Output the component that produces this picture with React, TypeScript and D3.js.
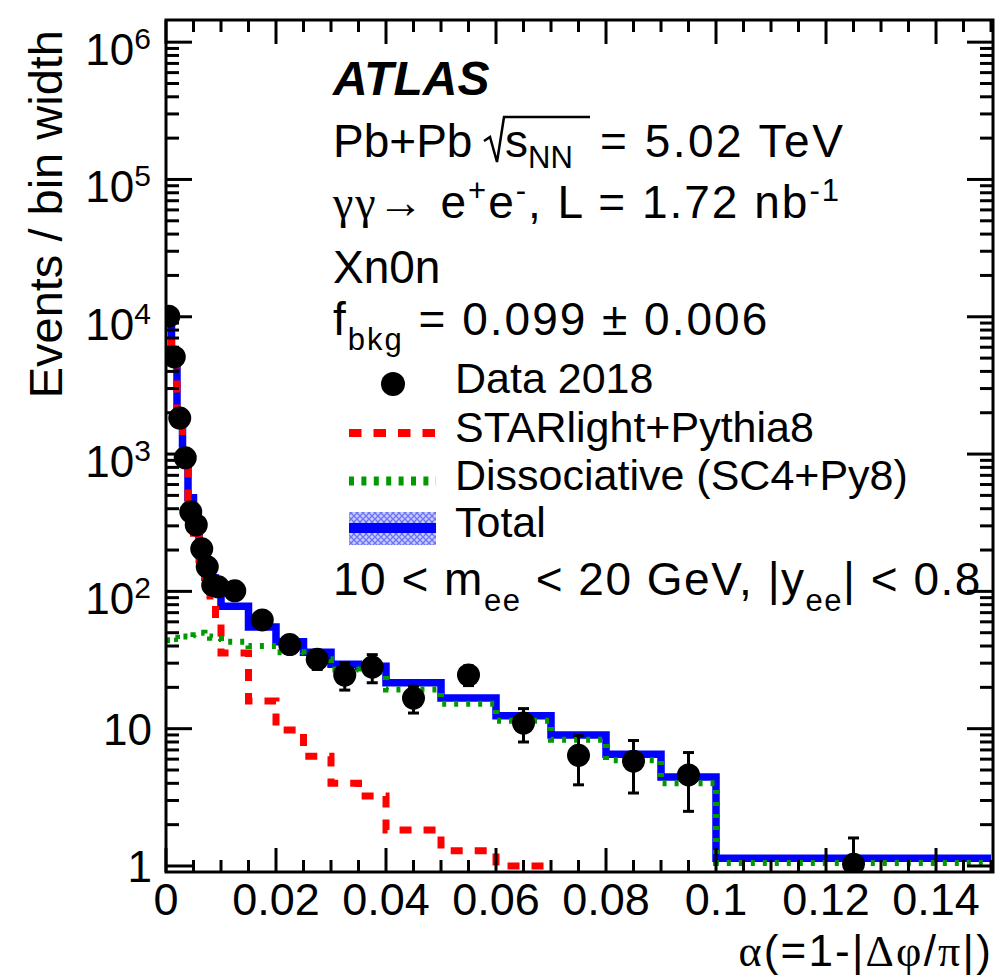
import React from 'react';
import * as d3 from 'd3';

// ---------------- data ----------------
const binEdges = [0, 0.001, 0.002, 0.003, 0.004, 0.005, 0.006, 0.007, 0.008, 0.009, 0.01,
  0.015, 0.02, 0.025, 0.03, 0.035, 0.04, 0.05, 0.06, 0.07, 0.08, 0.09, 0.1, 0.15];

const totalValues = [9600, 4700, 1950, 920, 480, 310, 215, 155, 125, 106,
  78, 55, 43, 36, 29.5, 28.5, 21.6, 16.7, 12.4, 9.0, 6.5, 4.45, 1.14];

const starlightValues = [9550, 4650, 1900, 875, 435, 265, 170, 110, 79, 61,
  35.6, 15.9, 9.8, 6.3, 4.0, 3.24, 1.83, 1.29, 1.0, null, null, null, null];

const dissociativeValues = [44, 46, 45, 47, 46, 48, 50, 47, 46, 45,
  43, 40, 36, 32, 27, 26, 19.3, 15.2, 11.4, 8.3, 5.9, 4.0, 1.05];

const dataX = [0.0005, 0.0015, 0.0025, 0.0035, 0.0045, 0.0055, 0.0065, 0.0075, 0.0085, 0.0095,
  0.0125, 0.0175, 0.0225, 0.0275, 0.0325, 0.0375, 0.045, 0.055, 0.065, 0.075, 0.085, 0.095, 0.125];
const dataY = [10100, 5100, 1830, 940, 380, 305, 204, 151, 111, 108,
  101, 62, 41, 32, 24.6, 28.1, 16.7, 24.6, 11, 6.4, 5.8, 4.6, 1.03];
const dataErr = [100, 71, 43, 31, 19.5, 17.5, 14.3, 12.3, 10.5, 10.4,
  7, 6, 5.5, 5, 5.5, 6.5, 3.7, 4, 3, 2.5, 2.4, 2.1, 0.57];

const xTickValues = [0, 0.02, 0.04, 0.06, 0.08, 0.1, 0.12, 0.14];
const xTickLabels = ['0', '0.02', '0.04', '0.06', '0.08', '0.1', '0.12', '0.14'];
const yDecades = [0, 1, 2, 3, 4, 5, 6];

// ---------------- layout ----------------
const W = 999, H = 978;
const L = 166, R = 993, T = 20, B = 872;
const FONT = "'Liberation Sans', Arial, Helvetica, sans-serif";
const SERIF = "'Liberation Serif', 'Times New Roman', serif";

const x = d3.scaleLinear().domain([0, 0.15036]).range([L, R]);
const y = d3.scaleLog().domain([0.904, 1.45e6]).range([B, T]);

function stepPath(values: (number | null)[]): string {
  let d = '';
  let started = false;
  for (let i = 0; i < values.length; i++) {
    const v = values[i];
    if (v == null || v <= 0) { started = false; continue; }
    const x0 = x(binEdges[i]), x1 = x(binEdges[i + 1]), yy = y(v);
    if (!started) { d += `M${x0},${yy}`; started = true; }
    else d += `V${yy}`;
    d += `H${x1}`;
  }
  return d;
}

export default function App() {
  const xMinor = d3.range(0, 31).map(i => i * 0.005).filter(v => v <= 0.15036);
  const yMinor: number[] = [];
  for (const k of yDecades) for (let m = 2; m <= 9; m++) {
    const v = m * Math.pow(10, k);
    if (v > 0.904 && v < 1.45e6) yMinor.push(v);
  }
  const blk = '#000';
  const HF = 46; // header font
  const SF = 31; // sub/superscript font
  return (
    <svg width={W} height={H} style={{ position: 'absolute', left: 0, top: 0, background: '#fff' }}
      fontFamily={FONT}>
      <defs>
        <clipPath id="plotclip"><rect x={L} y={T} width={R - L} height={B - T} /></clipPath>
        <pattern id="hatch" width="6" height="6" patternUnits="userSpaceOnUse">
          <rect width="6" height="6" fill="#c9ccff" />
          <path d="M0,0L6,6M6,0L0,6" stroke="#6f74f2" strokeWidth="1.3" />
        </pattern>
      </defs>
      <rect x={0} y={0} width={W} height={H} fill="#fff" />

      {/* histograms */}
      <g clipPath="url(#plotclip)" fill="none">
        <path d={stepPath(totalValues)} stroke="#0000ff" strokeWidth={7.5} />
        <path d={stepPath(starlightValues)} stroke="#ff0000" strokeWidth={7} strokeDasharray="12 12" />
        <path d={stepPath(dissociativeValues)} stroke="#009900" strokeWidth={6} strokeDasharray="4 8" />
      </g>

      {/* data */}
      <g clipPath="url(#plotclip)">
        {dataX.map((dx, i) => {
          const cx = x(dx), cy = y(dataY[i]);
          const yt = y(dataY[i] + dataErr[i]);
          const yb = dataY[i] - dataErr[i] > 0 ? y(dataY[i] - dataErr[i]) : B + 20;
          return (
            <g key={i}>
              <line x1={cx} x2={cx} y1={yt} y2={yb} stroke={blk} strokeWidth={3} />
              <line x1={cx - 5.5} x2={cx + 5.5} y1={yt} y2={yt} stroke={blk} strokeWidth={3} />
              <line x1={cx - 5.5} x2={cx + 5.5} y1={yb} y2={yb} stroke={blk} strokeWidth={3} />
              <circle cx={cx} cy={cy} r={11.5} fill={blk} />
            </g>
          );
        })}
      </g>

      {/* ticks */}
      <g stroke={blk} strokeWidth={3}>
        {xMinor.map((v, i) => {
          const major = Math.abs((v / 0.02) - Math.round(v / 0.02)) < 1e-6;
          const len = major ? 24 : 12;
          return (
            <g key={'xt' + i}>
              <line x1={x(v)} x2={x(v)} y1={B} y2={B - len} />
              <line x1={x(v)} x2={x(v)} y1={T} y2={T + len} />
            </g>
          );
        })}
        {yDecades.map(k => {
          const v = Math.pow(10, k);
          return (
            <g key={'ym' + k}>
              <line x1={L} x2={L + 26} y1={y(v)} y2={y(v)} />
              <line x1={R} x2={R - 26} y1={y(v)} y2={y(v)} />
            </g>
          );
        })}
        {yMinor.map((v, i) => (
          <g key={'yn' + i}>
            <line x1={L} x2={L + 13} y1={y(v)} y2={y(v)} />
            <line x1={R} x2={R - 13} y1={y(v)} y2={y(v)} />
          </g>
        ))}
      </g>
      <rect x={L} y={T} width={R - L} height={B - T} fill="none" stroke={blk} strokeWidth={3} />

      {/* tick labels */}
      <g fontSize={45} fill={blk}>
        {xTickValues.map((v, i) => (
          <text key={'xl' + i} x={x(v)} y={915} textAnchor="middle">{xTickLabels[i]}</text>
        ))}
      </g>
      <g fontSize={44} fill={blk}>
        {yDecades.map(k => {
          const yy = y(Math.pow(10, k));
          if (k === 0) return <text key={'yl' + k} x={152} y={yy + 16} textAnchor="end">1</text>;
          if (k === 1) return <text key={'yl' + k} x={152} y={yy + 16} textAnchor="end">10</text>;
          return (
            <text key={'yl' + k} x={151} y={yy + 23} textAnchor="end">10<tspan dy={-16} fontSize={30}>{k}</tspan></text>
          );
        })}
      </g>

      {/* axis titles */}
      <text x={993} y={966} fontSize={44} textAnchor="end" letterSpacing={2.2}>
        <tspan fontFamily={SERIF}>α</tspan>(=1-|<tspan fontFamily={SERIF}>Δφ</tspan>/<tspan fontFamily={SERIF}>π</tspan>|)
      </text>
      <text transform="translate(62,30) rotate(-90)" fontSize={47} textAnchor="end">Events / bin width</text>

      {/* header text */}
      <text x={333} y={95} fontSize={48} fontWeight="bold" fontStyle="italic">ATLAS</text>
      <g fontSize={HF} fill={blk}>
        <text x={333} y={157}>Pb+Pb</text>
        <path d="M484,141 L490,137 L497,162 L504,117 L590,117" fill="none" stroke={blk} strokeWidth={2.5} />
        <text x={505} y={157}>s<tspan dy={11} fontSize={SF}>NN</tspan></text>
        <text x={600} y={157} letterSpacing={2.5}>= 5.02 TeV</text>

        <text x={333} y={218} letterSpacing={2}>
          <tspan fontFamily={SERIF}>γγ</tspan>→ e<tspan dy={-17} fontSize={SF}>+</tspan><tspan dy={17}>e</tspan><tspan dy={-17} fontSize={SF}>-</tspan><tspan dy={17}>, L = 1.72 nb</tspan><tspan dy={-17} fontSize={SF}>-1</tspan>
        </text>
        <text x={333} y={283}>Xn0n</text>
        <text x={333} y={335} letterSpacing={2}>f<tspan dy={15} fontSize={SF}>bkg</tspan><tspan dy={-15}> =  0.099 ± 0.006</tspan></text>

        <text x={333} y={595} letterSpacing={1.5}>10 &lt; m<tspan dy={16} fontSize={SF}>ee</tspan><tspan dy={-16}> &lt; 20 GeV, |y</tspan><tspan dy={16} fontSize={SF}>ee</tspan><tspan dy={-16}>| &lt; 0.8</tspan></text>
      </g>

      {/* legend */}
      <g>
        <circle cx={393} cy={384} r={12} fill={blk} />
        <line x1={349} x2={436} y1={433} y2={433} stroke="#ff0000" strokeWidth={8} strokeDasharray="12.5 12" />
        <line x1={349} x2={436} y1={481} y2={481} stroke="#009900" strokeWidth={9} strokeDasharray="5 7.4" />
        <rect x={349} y={512} width={87} height={33} fill="url(#hatch)" />
        <line x1={349} x2={436} y1={528} y2={528} stroke="#0000ff" strokeWidth={10} />
        <g fontSize={43} fill={blk}>
          <text x={455} y={393}>Data 2018</text>
          <text x={455} y={442}>STARlight+Pythia8</text>
          <text x={455} y={490}>Dissociative (SC4+Py8)</text>
          <text x={455} y={537}>Total</text>
        </g>
      </g>
    </svg>
  );
}
